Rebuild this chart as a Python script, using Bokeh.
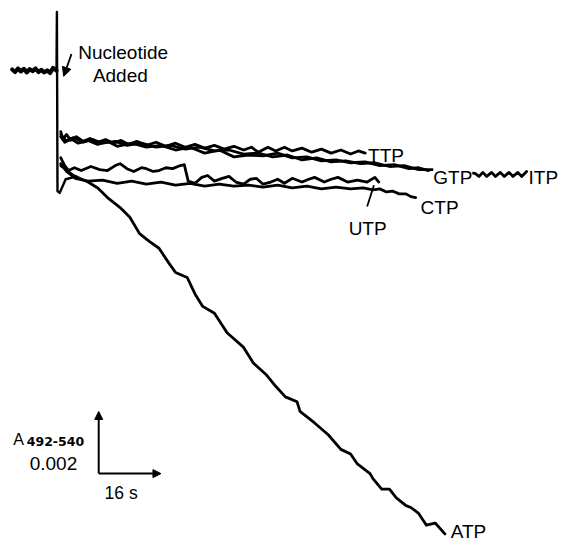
from bokeh.plotting import figure
from bokeh.models import Range1d, Label, Arrow, NormalHead
from bokeh.embed import file_html
from bokeh.resources import INLINE

# ---- data: time (s, nucleotide added at t=0), absorbance change A492-540 (x 10^-3) ----
baseline_t = [-12, -11.25, -10.5, -9.75, -9, -8.25, -7.5, -6.75, -6, -5.25, -4.5, -3.75, -3, -2.25, -1.5, -0.6]
baseline_a = [0.03, -0.05, 0.06, -0.03, 0.05, -0.06, 0.04, -0.02, 0.06, -0.05, 0.02, -0.06, 0.0, -0.08, 0.08, 0.0]

mix_t = [-0.6, -0.5, -0.35, 0.2, 1.75, 4.5]
mix_a = [0.0, 1.88, -3.88, -3.94, -3.5, -3.41]

ttp_t = [0.5, 1, 2, 3, 4.5, 6.25, 8, 10, 12, 14, 16, 18, 20, 22.5, 25, 27.5, 30, 32.5, 35, 37.5,
         40, 42.5, 45, 47.5, 49.5, 51.25, 53.75, 55.75, 58, 60, 62.5, 65, 67.5, 70, 72.5, 75, 77, 78.75]
ttp_a = [-1.97, -2.22, -2.06, -2.25, -2.13, -2.28, -2.19, -2.31, -2.22, -2.34, -2.25, -2.38, -2.28, -2.41,
         -2.31, -2.44, -2.34, -2.47, -2.38, -2.5, -2.41, -2.53, -2.44, -2.56, -2.47, -2.63, -2.47, -2.59,
         -2.47, -2.59, -2.5, -2.63, -2.53, -2.66, -2.56, -2.69, -2.59, -2.66]

gtp_t = [0.5, 1.5, 3, 5, 7.5, 10, 12.5, 15, 18.75, 22.5, 26.25, 30, 33.75, 37.5, 41.25, 45, 48.75, 52.5,
         56.25, 60, 63.75, 67.5, 71.25, 75, 78.75, 82.5, 86.25, 90, 92.5, 95]
gtp_a = [-2.13, -2.31, -2.19, -2.34, -2.25, -2.38, -2.28, -2.44, -2.34, -2.47, -2.41, -2.56, -2.47, -2.66,
         -2.56, -2.78, -2.72, -2.75, -2.66, -2.81, -2.78, -2.91, -2.88, -2.97, -2.94, -3.06, -3.03, -3.16,
         -3.13, -3.22]

itp_t = [0.5, 2, 3.75, 6.25, 8.75, 11.25, 14.5, 17.5, 21.25, 25, 28.75, 32.5, 36.25, 40, 43.75, 47.5,
         51.25, 55, 58.75, 62.5, 66.25, 70, 73.75, 77.5, 81.25, 85, 88.75, 92.5, 96.25, 100, 103.75,
         107, 108, 109, 110, 111.25, 112.25, 113.5, 114.5, 115.75, 116.75, 118, 119, 120.25]
itp_a = [-2.06, -2.28, -2.16, -2.31, -2.22, -2.34, -2.28, -2.41, -2.34, -2.47, -2.41, -2.53, -2.47, -2.59,
         -2.56, -2.69, -2.66, -2.78, -2.72, -2.88, -2.81, -2.94, -2.91, -3.0, -2.97, -3.09, -3.06, -3.19,
         -3.19, -3.25, -3.28, -3.31, -3.41, -3.28, -3.41, -3.28, -3.41, -3.28, -3.41, -3.28, -3.41, -3.28,
         -3.41, -3.25]

utp_t = [0.5, 1.5, 2.5, 4, 5.75, 8.25, 10.5, 12.5, 14.5, 15.75, 17.5, 19.25, 21.25, 22.5, 24.25, 25.75,
         27.5, 29.25, 31.25, 32.25, 33.25, 35, 36.75, 38.25, 40, 42, 43.75, 45.5, 47.5, 49.25, 50.75,
         52.5, 54.5, 56.25, 58, 60, 62.5, 64.25, 65.75, 68.25, 70, 71.75, 74.25, 76.75, 79.25, 81.25, 82.25]
utp_a = [-2.81, -3.06, -3.22, -3.13, -3.22, -3.09, -3.19, -3.22, -3.06, -3.0, -3.16, -3.25, -3.13, -3.16,
         -3.25, -3.22, -3.13, -3.16, -3.06, -3.03, -3.56, -3.63, -3.44, -3.38, -3.56, -3.47, -3.41, -3.59,
         -3.66, -3.5, -3.47, -3.66, -3.59, -3.5, -3.63, -3.47, -3.59, -3.5, -3.44, -3.59, -3.5, -3.44,
         -3.59, -3.53, -3.59, -3.44, -3.59]

ctp_t = [0.5, 2, 4.25, 7.5, 11.25, 15, 18.75, 22.5, 26.25, 30, 33.75, 37.5, 41.25, 45, 48.75, 52.5,
         56.25, 60, 63.75, 67.5, 71.25, 75, 78.25, 80.75, 82.5, 84.25, 85.75, 87.5, 89.25, 90.5, 91.75]
ctp_a = [-3.0, -3.25, -3.47, -3.56, -3.53, -3.63, -3.56, -3.66, -3.59, -3.69, -3.63, -3.72, -3.66, -3.72,
         -3.69, -3.75, -3.69, -3.78, -3.72, -3.81, -3.75, -3.81, -3.78, -3.84, -3.81, -3.91, -3.88, -3.97,
         -3.97, -4.06, -4.09]

atp_t = [0.5, 3.75, 7.5, 10, 12.5, 15.75, 18.25, 20.75, 23.25, 25.75, 28.25, 30, 33, 35, 37, 40, 43.25,
         45, 47.5, 50, 53.25, 55.75, 58.25, 61.25, 62, 65.75, 69.25, 72.5, 75, 76.75, 80, 80.75, 83, 85,
         86.75, 89.25, 90.5, 92.5, 94.5, 96.75, 99.25]
atp_a = [-3.06, -3.38, -3.59, -3.78, -4.09, -4.41, -4.72, -5.25, -5.5, -5.72, -6.19, -6.5, -6.66, -7.19,
         -7.59, -7.81, -8.44, -8.63, -8.91, -9.41, -9.78, -10.16, -10.5, -10.66, -10.97, -11.34, -11.72,
         -12.19, -12.34, -12.66, -12.97, -13.13, -13.47, -13.47, -13.75, -14.0, -14.06, -14.25, -14.63,
         -14.56, -14.91]

trace_labels = ["TTP", "GTP", "ITP", "CTP", "UTP", "ATP"]

scale_time = 16      # s
scale_abs = 2.0      # x 10^-3  (0.002)

# ---- figure ----
p = figure(width=565, height=544, x_range=Range1d(-15, 130.25), y_range=Range1d(-15.25, 2.25),
           x_axis_type=None, y_axis_type=None, output_backend="svg", toolbar_location=None,
           min_border=0)
p.grid.visible = False
p.outline_line_color = None
p.background_fill_color = "white"
p.border_fill_color = "white"

lw = 2.8
kw = dict(line_color="black", line_join="round", line_cap="round")
p.line(baseline_t, baseline_a, line_width=4.2, **kw)
p.line(mix_t, mix_a, line_width=2.4, **kw)
p.line(ttp_t, ttp_a, line_width=lw, **kw)
p.line(itp_t, itp_a, line_width=lw, **kw)
p.line(gtp_t, gtp_a, line_width=lw, **kw)
p.line(utp_t, utp_a, line_width=lw, **kw)
p.line(ctp_t, ctp_a, line_width=lw, **kw)
p.line(atp_t, atp_a, line_width=lw, **kw)

FONT = "Liberation Sans"

def lab(x, y, text, size="19px", font=FONT, style="normal", bg=None):
    l = Label(x=x, y=y, text=text, text_font=font, text_font_size=size, text_font_style=style,
              text_color="black", text_align="left", text_baseline="alphabetic")
    if bg:
        l.background_fill_color = bg
    p.add_layout(l)

lab(5, 0.59, "Nucleotide")
lab(8.75, -0.16, "Added")
p.add_layout(Arrow(end=NormalHead(size=9, fill_color="black", line_color="black", line_width=1),
                   x_start=3.25, y_start=0.53, x_end=1.25, y_end=-0.19, line_width=1.8))

lab(79.5, -2.75, trace_labels[0])
lab(96.25, -3.44, trace_labels[1], bg="white")
lab(120.75, -3.44, trace_labels[2])
lab(93, -4.41, trace_labels[3])
lab(74.5, -5.09, trace_labels[4])
lab(100.75, -14.82, trace_labels[5])
# pointer from UTP label to its trace
p.line([79.25, 81.0], [-4.38, -3.69], line_width=1.8, line_color="black")

# ---- scale bar ----
ox, oy = 10.25, -12.97
p.add_layout(Arrow(end=NormalHead(size=8, fill_color="black", line_color="black", line_width=1),
                   x_start=ox, y_start=oy, x_end=ox, y_end=oy + scale_abs, line_width=2))
p.add_layout(Arrow(end=NormalHead(size=8, fill_color="black", line_color="black", line_width=1),
                   x_start=ox, y_start=oy, x_end=ox + scale_time, y_end=oy, line_width=2))
lab(-11.75, -11.875, "A", size="16px")
lab(-8.25, -11.94, "492-540", size="12.5px", font="DejaVu Sans", style="bold")
lab(-7.5, -12.66, "0.002")
lab(11.75, -13.59, "16 s", size="17.5px")

open("out.html", "w").write(file_html(p, INLINE))
